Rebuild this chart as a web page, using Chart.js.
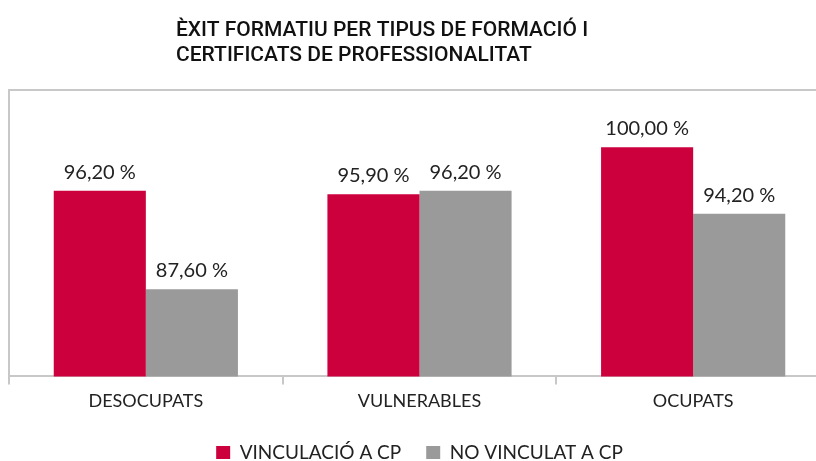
<!DOCTYPE html>
<html>
<head>
<meta charset="utf-8">
<script src="https://cdn.jsdelivr.net/npm/chart.js@4"></script>
<style>
  html, body { margin: 0; padding: 0; background: #fff; overflow: hidden; }
  #wrap { width: 839px; height: 461px; }
</style>
</head>
<body>
<div id="wrap"><canvas id="chart" width="839" height="461"></canvas></div>
<script>
const titleLines = ["ÈXIT FORMATIU PER TIPUS DE FORMACIÓ I", "CERTIFICATS DE PROFESSIONALITAT"];
const categories = ["DESOCUPATS", "VULNERABLES", "OCUPATS"];
const seriesNames = ["VINCULACIÓ A CP", "NO VINCULAT A CP"];
const vinculacio = [96.2, 95.9, 100.0];
const noVinculat = [87.6, 96.2, 94.2];
const colors = ["#cc003d", "#9a9a9a"];
const lineColor = "#c8c8c8";

// title drawn left-aligned, squeezed a little to the narrow look of the original
const titlePlugin = {
  id: "leftTitle",
  afterDraw(chart) {
    const ctx = chart.ctx;
    ctx.save();
    ctx.font = "500 21px Roboto";
    ctx.fillStyle = "#111";
    ctx.textAlign = "left";
    ctx.textBaseline = "alphabetic";
    const w = ctx.measureText(titleLines[0]).width;
    const sx = Math.min(1, 464 / w);
    titleLines.forEach((t, i) => {
      ctx.save();
      ctx.translate(176, 36 + i * 25);
      ctx.scale(sx, 1);
      ctx.fillText(t, 0, 0);
      ctx.restore();
    });
    ctx.restore();
  }
};

// wide gap between legend items, but keep the legend box short
const legendHeight = {
  id: "legendHeight",
  beforeLayout(chart) {
    const lg = chart.legend;
    if (!lg || lg._patched) return;
    const fit = lg.fit;
    lg.fit = function () {
      fit.call(this);
      this.height = 43;
    };
    lg._patched = true;
  }
};

// light frame round the plot area (top, left, right)
const framePlugin = {
  id: "frame",
  beforeDatasetsDraw(chart) {
    const { ctx, chartArea: a } = chart;
    ctx.save();
    ctx.strokeStyle = lineColor;
    ctx.lineWidth = 2;
    ctx.beginPath();
    ctx.moveTo(a.left, a.bottom);
    ctx.lineTo(a.left, a.top);
    ctx.lineTo(a.right, a.top);
    ctx.lineTo(a.right, a.bottom);
    ctx.stroke();
    ctx.restore();
  }
};

// value labels above each bar
const valueLabels = {
  id: "valueLabels",
  afterDatasetsDraw(chart) {
    const ctx = chart.ctx;
    ctx.save();
    ctx.font = "20px Lato";
    ctx.fillStyle = "#222";
    ctx.textAlign = "center";
    ctx.textBaseline = "alphabetic";
    chart.data.datasets.forEach((ds, di) => {
      chart.getDatasetMeta(di).data.forEach((bar, i) => {
        const txt = ds.data[i].toFixed(2).replace(".", ",") + " %";
        ctx.fillText(txt, bar.x, bar.y - 12);
      });
    });
    ctx.restore();
  }
};

new Chart(document.getElementById("chart"), {
  type: "bar",
  data: {
    labels: categories,
    datasets: [
      { label: seriesNames[0], data: vinculacio, backgroundColor: colors[0] },
      { label: seriesNames[1], data: noVinculat, backgroundColor: colors[1] }
    ]
  },
  options: {
    responsive: false,
    animation: false,
    layout: { padding: { top: 90, left: 9, right: 9, bottom: 0 } },
    datasets: { bar: { categoryPercentage: 0.673, barPercentage: 1 } },
    scales: {
      x: {
        grid: { drawOnChartArea: false, color: lineColor, lineWidth: 2, tickLength: 8, offset: true },
        border: { color: lineColor, width: 2 },
        ticks: { color: "#222", font: { family: "Lato", size: 18 }, padding: 6 }
      },
      y: { display: false, min: 80, max: 105 }
    },
    plugins: {
      legend: {
        position: "bottom",
        labels: {
          color: "#222",
          font: { family: "Lato", size: 19 },
          boxWidth: 14,
          boxHeight: 13,
          padding: 25
        }
      },
      tooltip: { enabled: false }
    }
  },
  plugins: [legendHeight, titlePlugin, framePlugin, valueLabels]
});
</script>
</body>
</html>
